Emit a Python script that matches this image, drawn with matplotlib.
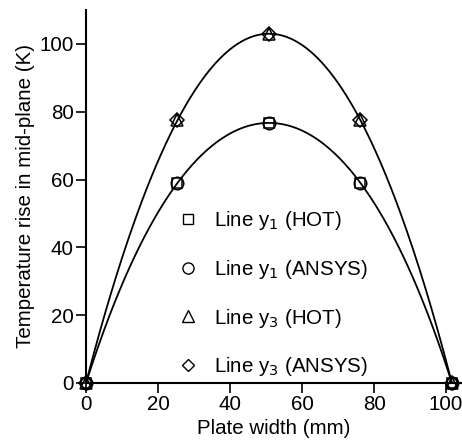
import numpy as np
import matplotlib
matplotlib.use("Agg")
import matplotlib.pyplot as plt
from matplotlib.lines import Line2D

plt.rcParams['font.family'] = ['Liberation Sans', 'DejaVu Sans']

x_pts = [0, 25.4, 50.8, 76.2, 101.6]
y1_hot = [0, 59, 76.7, 59, 0]
y1_ansys = [0, 59, 76.7, 59, 0]
y3_hot = [0, 77.5, 103, 77.5, 0]
y3_ansys = [0, 77.5, 103, 77.5, 0]
xticks = [0, 20, 40, 60, 80, 100]
yticks = [0, 20, 40, 60, 80, 100]
labels = ['Line y$_1$ (HOT)', 'Line y$_1$ (ANSYS)', 'Line y$_3$ (HOT)', 'Line y$_3$ (ANSYS)']

FS = 14.8
fig = plt.figure(figsize=(4.62, 4.46), dpi=100)
ax = fig.add_axes([86/462, 63/446, 376/462, 373/446])

xs = np.linspace(x_pts[0], x_pts[-1], 300)
for ys in (y1_hot, y3_hot):
    c = np.polyfit(x_pts, ys, 4)
    ax.plot(xs, np.polyval(c, xs), color='black', lw=1.3, clip_on=False)

mk = dict(ls='none', mfc='none', mec='black', mew=1.1, clip_on=False, zorder=3)
ax.plot(x_pts, y1_hot, marker='s', ms=7.5, **mk)
ax.plot(x_pts, y1_ansys, marker='o', ms=9, **mk)
ax.plot(x_pts, y3_hot, marker='^', ms=8.5, **mk)
ax.plot(x_pts, y3_ansys, marker='D', ms=7, **mk)

ax.set_xlim(0, 104.4)
ax.set_ylim(0, 110)
ax.set_xticks(xticks)
ax.set_yticks(yticks)
ax.spines['top'].set_visible(False)
ax.spines['right'].set_visible(False)
for s in ('left', 'bottom'):
    ax.spines[s].set_linewidth(1.5)
ax.tick_params(direction='out', length=7, width=1.2, labelsize=FS, pad=2)
ax.set_xlabel('Plate width (mm)', fontsize=FS, labelpad=3)
ax.set_ylabel('Temperature rise in mid-plane (K)', fontsize=FS, labelpad=3)

lmk = dict(ls='none', mfc='none', mec='black', mew=1.0)
handles = [
    Line2D([], [], marker='s', ms=7, **lmk),
    Line2D([], [], marker='o', ms=8, **lmk),
    Line2D([], [], marker='^', ms=8, **lmk),
    Line2D([], [], marker='D', ms=6.5, **lmk),
]
ax.legend(handles, labels, loc='upper left', bbox_to_anchor=(0.221, 0.488),
          frameon=False, fontsize=FS, handlelength=1.0, handletextpad=0.8,
          labelspacing=1.25, borderaxespad=0)

fig.savefig('out.png', dpi=100)
